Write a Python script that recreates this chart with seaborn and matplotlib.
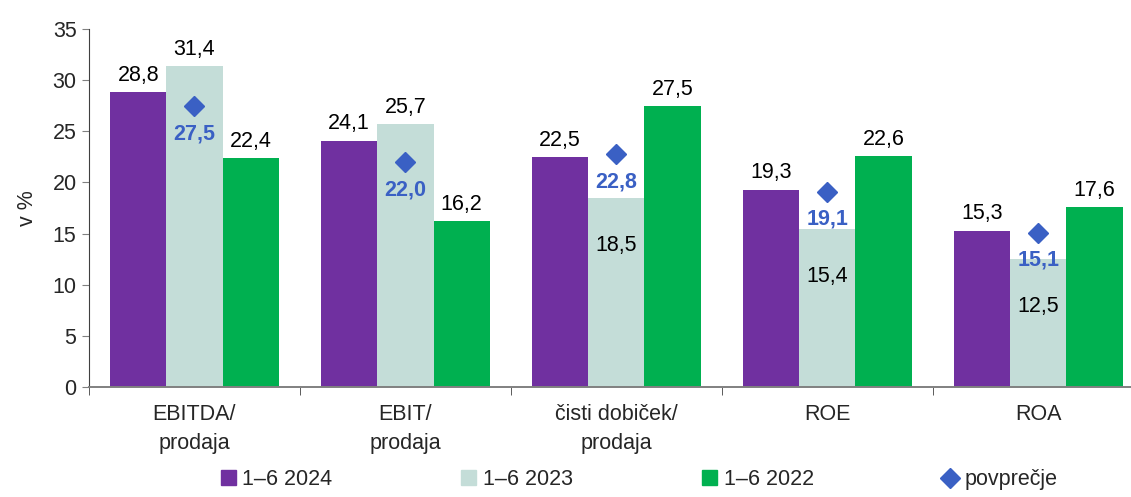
import numpy as np
import pandas as pd
import matplotlib
matplotlib.use('Agg')
import matplotlib.pyplot as plt
from matplotlib.lines import Line2D
import seaborn as sns

# data
categories = ["EBITDA/\nprodaja", "EBIT/\nprodaja", "čisti dobiček/\nprodaja", "ROE", "ROA"]
periods = ["1–6 2024", "1–6 2023", "1–6 2022"]
vals_2024 = [28.8, 24.1, 22.5, 19.3, 15.3]
vals_2023 = [31.4, 25.7, 18.5, 15.4, 12.5]
vals_2022 = [22.4, 16.2, 27.5, 22.6, 17.6]
average = [27.5, 22.0, 22.8, 19.1, 15.1]

colors = ["#7030A0", "#C4DDD8", "#00B050"]
avg_color = "#3A60C4"

df = pd.DataFrame({
    "kategorija": categories * 3,
    "obdobje": [p for p in periods for _ in categories],
    "vrednost": vals_2024 + vals_2023 + vals_2022,
})

sns.set_style("white")
plt.rcParams['font.family'] = ['Liberation Sans', 'DejaVu Sans']

fig = plt.figure(figsize=(11.31, 4.97), dpi=100)
ax = fig.add_axes([0.0787, 0.2213, 0.9213, 0.7203])

sns.barplot(data=df, x="kategorija", y="vrednost", hue="obdobje",
            order=categories, hue_order=periods, palette=colors,
            width=0.8, gap=0, saturation=1, errorbar=None, ax=ax,
            legend=False, linewidth=0, edgecolor="none")

# value labels
fs = 15.5
for ci, cont in enumerate(ax.containers):
    for bi, bar in enumerate(cont):
        h = bar.get_height()
        xc = bar.get_x() + bar.get_width() / 2
        txt = f"{h:.1f}".replace(".", ",")
        if ci == 1 and h < average[bi]:
            ax.annotate(txt, (xc, h), xytext=(0, -34), textcoords="offset points",
                        ha="center", va="center", fontsize=fs, color="black")
        else:
            ax.annotate(txt, (xc, h), xytext=(0, 12), textcoords="offset points",
                        ha="center", va="center", fontsize=fs, color="black")

# average diamonds
xpos = np.arange(len(categories))
ax.plot(xpos, average, linestyle="none", marker="D", markersize=10,
        color=avg_color, zorder=5)
for x, a in zip(xpos, average):
    ax.annotate(f"{a:.1f}".replace(".", ","), (x, a), xytext=(0, -20),
                textcoords="offset points", ha="center", va="center",
                fontsize=fs, fontweight="bold", color=avg_color)

ax.set_ylim(0, 35)
ax.set_yticks(range(0, 36, 5))
ax.set_xlim(-0.5, 4.44)
ax.set_xlabel("")
ax.set_ylabel("v %", fontsize=fs, labelpad=10)
ax.tick_params(axis="y", labelsize=fs, length=5, direction="out", left=True,
               color="#808080", pad=4)
ax.tick_params(axis="x", which="major", labelsize=fs, length=0, pad=12)
ax.set_xticks(np.arange(-0.5, 4.5, 1.0), minor=True)
ax.tick_params(axis="x", which="minor", length=6, direction="out",
               bottom=True, color="#404040")
for lbl in ax.get_xticklabels():
    lbl.set_linespacing(1.5)
sns.despine(ax=ax)
ax.spines["left"].set_color("#404040")
ax.spines["bottom"].set_color("#808080")
ax.spines["bottom"].set_linewidth(1.4)

handles = [plt.Rectangle((0, 0), 1, 1, color=c) for c in colors]
handles.append(Line2D([], [], linestyle="none", marker="D", markersize=10,
                      color=avg_color))
fig.legend(handles, periods + ["povprečje"], loc="lower center",
           bbox_to_anchor=(0.565, -0.025), ncol=4, frameon=False,
           fontsize=fs, handlelength=0.7, handleheight=0.7,
           handletextpad=0.3, columnspacing=6.0)

fig.savefig("out.png", dpi=100)
